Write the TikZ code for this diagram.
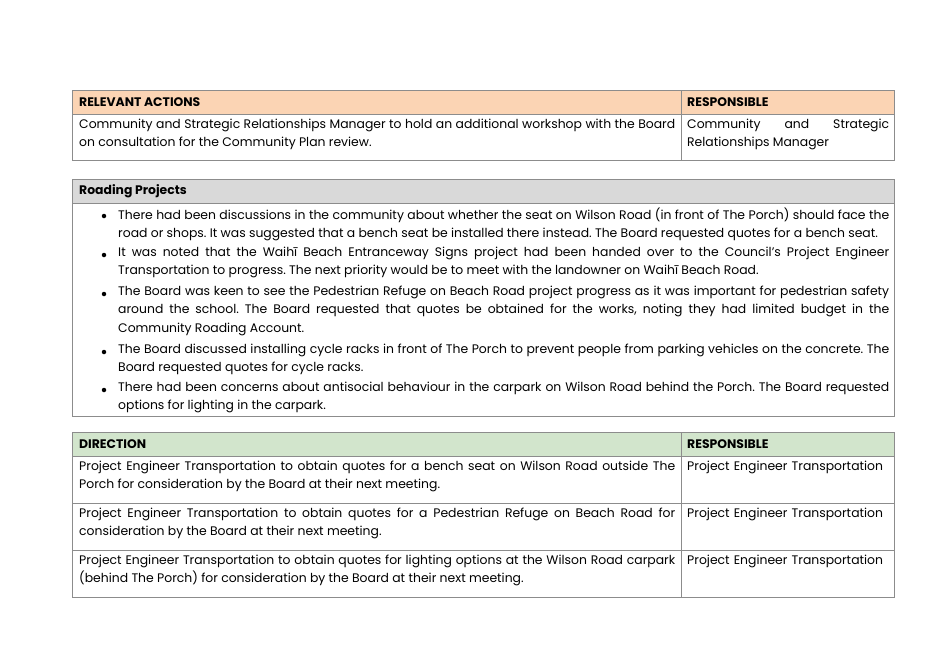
\documentclass[tikz,border=0pt]{standalone}
\usepackage{fontspec}
\setmainfont{Poppins}
\definecolor{bordc}{HTML}{8C8C8C}
\definecolor{peach}{HTML}{FBD4B4}
\definecolor{greyh}{HTML}{D9D9D9}
\definecolor{greenh}{HTML}{D2E5CC}
\newcommand{\bodyf}{\fontsize{12.4}{18.2}\selectfont\hyphenpenalty=10000\exhyphenpenalty=10000\frenchspacing}
\tikzset{
  box/.style={draw=bordc, line width=0.8pt},
  cell/.style={anchor=north west, inner sep=0pt, align=justify, font=\bodyf, text=black},
  head/.style={anchor=west, inner sep=0pt, font=\bodyf\bfseries, text=black},
  bul/.style={circle, fill=black, inner sep=0pt, minimum size=4.5pt}
}
\begin{document}
\begin{tikzpicture}[x=1pt,y=-1pt]
\useasboundingbox (0,0) rectangle (939,664);
% table 1
\fill[peach] (72,90) rectangle (894,114);
\draw[box] (72,90) rectangle (894,160);
\draw[box] (72,114) -- (894,114);
\draw[box] (681,90) -- (681,160);
\node[head] (h1) at (79,102) {RELEVANT ACTIONS};
\node[head] (h2) at (687,102) {RESPONSIBLE};
\node[cell, text width=596pt] (c1) at (79,119) {Community and Strategic Relationships Manager to hold an additional workshop with the Board on consultation for the Community Plan review.};
\node[cell, text width=202pt] (c2) at (687,119) {Community and Strategic Relationships Manager};
% table 2
\fill[greyh] (72,179) rectangle (894,203);
\draw[box] (72,179) rectangle (894,416);
\draw[box] (72,203) -- (894,203);
\node[head] (h3) at (79,191) {Roading Projects};
\foreach \y/\t [count=\i] in {
 208/{There had been discussions in the community about whether the seat on Wilson Road (in front of The Porch) should face the road or shops. It was suggested that a bench seat be installed there instead. The Board requested quotes for a bench seat.},
 247/{It was noted that the Waihī Beach Entranceway Signs project had been handed over to the Council’s Project Engineer Transportation to progress. The next priority would be to meet with the landowner on Waihī Beach Road.},
 286/{The Board was keen to see the Pedestrian Refuge on Beach Road project progress as it was important for pedestrian safety around the school. The Board requested that quotes be obtained for the works, noting they had limited budget in the Community Roading Account.},
 344/{The Board discussed installing cycle racks in front of The Porch to prevent people from parking vehicles on the concrete. The Board requested quotes for cycle racks.},
 382/{There had been concerns about antisocial behaviour in the carpark on Wilson Road behind the Porch. The Board requested options for lighting in the carpark.}}
{
 \node[bul] (b\i) at (104,\y+8) {};
 \node[cell, text width=771pt] (t\i) at (118,\y) {\t};
}
% table 3
\fill[greenh] (72,432) rectangle (894,456);
\draw[box] (72,432) rectangle (894,597);
\foreach \y in {456,503,550} \draw[box] (72,\y) -- (894,\y);
\draw[box] (681,432) -- (681,597);
\node[head] (h4) at (79,444) {DIRECTION};
\node[head] (h5) at (687,444) {RESPONSIBLE};
\foreach \y/\t [count=\i] in {
 461/{Project Engineer Transportation to obtain quotes for a bench seat on Wilson Road outside The Porch for consideration by the Board at their next meeting.},
 508/{Project Engineer Transportation to obtain quotes for a Pedestrian Refuge on Beach Road for consideration by the Board at their next meeting.},
 555/{Project Engineer Transportation to obtain quotes for lighting options at the Wilson Road carpark (behind The Porch) for consideration by the Board at their next meeting.}}
{
 \node[cell, text width=596pt] (d\i) at (79,\y) {\t};
 \node[cell, text width=202pt, align=left] (r\i) at (687,\y) {Project Engineer Transportation};
}
\end{tikzpicture}
\end{document}
